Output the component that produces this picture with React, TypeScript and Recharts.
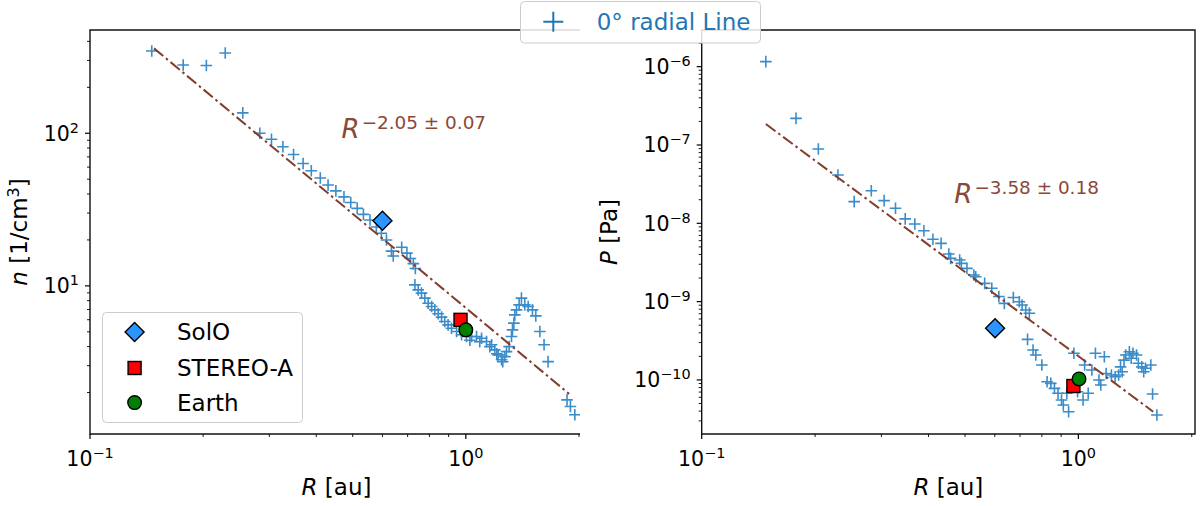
import React from "react";
import { ScatterChart, Scatter, XAxis, YAxis, ReferenceArea, ReferenceDot, Legend } from "recharts";

const FONT = "DejaVu Sans";
const BLUE = "#3b8cc9";
const BROWN = "#823d2c";
const BROWN_TXT = "#8a4838";

// 0° radial line - density
const nR = [0.146, 0.177, 0.204, 0.229, 0.255, 0.283, 0.304, 0.326, 0.348, 0.369, 0.388, 0.41, 0.43, 0.451, 0.474, 0.494, 0.514, 0.534, 0.556, 0.578, 0.596, 0.615, 0.634, 0.641, 0.675, 0.697, 0.712, 0.725, 0.732, 0.734, 0.747, 0.762, 0.778, 0.794, 0.811, 0.827, 0.844, 0.862, 0.879, 0.897, 0.916, 0.945, 0.974, 1.004, 1.025, 1.036, 1.068, 1.089, 1.101, 1.135, 1.158, 1.171, 1.194, 1.209, 1.219, 1.245, 1.254, 1.27, 1.283, 1.304, 1.323, 1.331, 1.342, 1.35, 1.364, 1.386, 1.406, 1.435, 1.465, 1.504, 1.535, 1.574, 1.615, 1.655, 1.859, 1.898, 1.95];
const nVal = [346, 280, 278, 336, 136, 100, 91.4, 81.6, 72.6, 63.4, 56.8, 50.9, 45.8, 41.9, 38.3, 35.2, 32.2, 29.4, 27.0, 24.3, 22.1, 20.0, 16.9, 15.7, 17.9, 16.4, 15.1, 14.0, 10.15, 13.0, 9.42, 8.96, 8.31, 7.7, 7.32, 6.96, 6.56, 6.24, 5.84, 5.55, 5.28, 5.02, 4.78, 4.66, 4.4, 4.66, 4.66, 4.3, 4.54, 4.32, 3.99, 4.11, 3.81, 3.59, 3.53, 3.28, 3.18, 3.44, 3.71, 4.0, 4.66, 5.15, 5.7, 6.46, 6.96, 7.51, 8.31, 7.51, 7.32, 6.96, 6.36, 5.02, 4.11, 3.19, 1.79, 1.62, 1.43];

// 0° radial line - pressure
const pR = [0.148, 0.178, 0.204, 0.23, 0.254, 0.282, 0.305, 0.327, 0.347, 0.368, 0.389, 0.411, 0.432, 0.453, 0.458, 0.484, 0.489, 0.506, 0.528, 0.534, 0.564, 0.589, 0.615, 0.636, 0.672, 0.697, 0.709, 0.725, 0.733, 0.741, 0.758, 0.771, 0.8, 0.826, 0.845, 0.864, 0.883, 0.902, 0.912, 0.932, 0.942, 0.973, 0.995, 1.029, 1.039, 1.062, 1.086, 1.11, 1.134, 1.147, 1.172, 1.185, 1.224, 1.252, 1.279, 1.294, 1.307, 1.322, 1.336, 1.366, 1.381, 1.396, 1.427, 1.443, 1.474, 1.491, 1.507, 1.557, 1.574, 1.616];
const pVal = [1.16e-6, 2.19e-7, 8.89e-8, 4.14e-8, 1.89e-8, 2.61e-8, 1.95e-8, 1.56e-8, 1.14e-8, 9.8e-9, 8.04e-9, 6.25e-9, 5.55e-9, 4.06e-9, 3.57e-9, 3.4e-9, 3.08e-9, 2.66e-9, 2.19e-9, 2.08e-9, 1.71e-9, 1.48e-9, 1.16e-9, 9.5e-10, 1.13e-9, 9.97e-10, 9.04e-10, 7.81e-10, 3.3e-10, 7.1e-10, 2.41e-10, 2.08e-10, 1.55e-10, 9.48e-11, 9.04e-11, 7.81e-11, 6.75e-11, 5.54e-11, 4.78e-11, 6.75e-11, 3.93e-11, 2.19e-10, 7.08e-11, 5.54e-11, 1.55e-10, 6.75e-11, 1.34e-10, 2.19e-10, 1.0e-10, 8.61e-11, 1.98e-10, 1.21e-10, 1.155e-10, 1.1e-10, 1.155e-10, 1.47e-10, 1.27e-10, 1.79e-10, 2.08e-10, 2.29e-10, 1.89e-10, 2.19e-10, 2.08e-10, 1.63e-10, 1.47e-10, 1.27e-10, 1.41e-10, 1.55e-10, 6.6e-11, 3.56e-11];

// spacecraft
const craftNames = ["SolO", "STEREO-A", "Earth"];
const craftColors = ["#2b95ff", "#ff0000", "#008000"];
const craftNR = [0.6, 0.968, 1.0];
const craftN = [26.7, 5.99, 5.15];
const craftPR = [0.601, 0.97, 1.004];
const craftP = [4.56e-10, 8.36e-11, 1.03e-10];

// power-law fits (end points)
const fitNR = [0.148, 1.883];
const fitN = [360, 1.96];
const fitPR = [0.148, 1.58];
const fitP = [1.85e-7, 3.93e-11];

const nDomain = [1.07, 475];
const pDomain = [2.04e-11, 2.94e-6];
const xDomainN = [0.1, 2.05];
const xDomainP = [0.1, 2.04];

const zip = (xs: number[], ys: number[]) => xs.map((x, i) => ({ x, y: ys[i] }));

function logTicks(lo: number, hi: number) {
  const out: number[] = [];
  for (let e = Math.floor(Math.log10(lo)); e <= Math.ceil(Math.log10(hi)); e++) {
    for (let m = 1; m < 10; m++) {
      const v = m * Math.pow(10, e);
      if (v >= lo * 0.999 && v <= hi * 1.001) out.push(v);
    }
  }
  return out;
}

const isMajor = (v: number) => {
  const e = Math.log10(v);
  return Math.abs(e - Math.round(e)) < 1e-6;
};
const expo = (v: number) => {
  const k = Math.round(Math.log10(v));
  return k < 0 ? "\u2212" + Math.abs(k) : String(k);
};

function XTick(props: any) {
  const { x, y, payload } = props;
  const major = isMajor(payload.value);
  return (
    <g>
      <line x1={x} x2={x} y1={y} y2={y + (major ? 5 : 3)} stroke="#000" strokeWidth={major ? 1.2 : 0.9} />
      {major && (
        <text x={x} y={y + 32} textAnchor="middle" fontFamily={FONT} fontSize={20.5} fill="#000">
          10<tspan dy={-8} fontSize={14.4}>{expo(payload.value)}</tspan>
        </text>
      )}
    </g>
  );
}

function YTick(props: any) {
  const { x, y, payload } = props;
  const major = isMajor(payload.value);
  return (
    <g>
      <line x1={x} x2={x - (major ? 5 : 3)} y1={y} y2={y} stroke="#000" strokeWidth={major ? 1.2 : 0.9} />
      {major && (
        <text x={x - 11} y={y + 7.5} textAnchor="end" fontFamily={FONT} fontSize={20.5} fill="#000">
          10<tspan dy={-8} fontSize={14.4}>{expo(payload.value)}</tspan>
        </text>
      )}
    </g>
  );
}

function XLabel(props: any) {
  const vb = props.viewBox || { x: 0, y: 0, width: 0 };
  return (
    <text x={vb.x + vb.width / 2} y={vb.y + 61} textAnchor="middle" fontFamily={FONT} fontSize={23} fill="#000">
      <tspan fontStyle="italic">R</tspan> [au]
    </text>
  );
}

function YLabel(props: any) {
  const vb = props.viewBox || { x: 0, y: 0, height: 0 };
  const cx = vb.x + props.dx;
  const cy = vb.y + vb.height / 2;
  return (
    <text x={cx} y={cy} textAnchor="middle" fontFamily={FONT} fontSize={23} fill="#000" transform={`rotate(-90, ${cx}, ${cy})`}>
      {props.kind === "n" ? (
        <>
          <tspan fontStyle="italic">n</tspan> [1/cm<tspan dy={-8} fontSize={16}>3</tspan><tspan dy={8}>]</tspan>
        </>
      ) : (
        <>
          <tspan fontStyle="italic">P</tspan> [Pa]
        </>
      )}
    </text>
  );
}

const Plus = (props: any) => {
  const { cx, cy } = props;
  if (cx == null || cy == null) return <g />;
  const h = 5.8;
  return <path d={`M${cx - h},${cy}H${cx + h}M${cx},${cy - h}V${cy + h}`} stroke={BLUE} strokeWidth={1.6} fill="none" />;
};

const Diamond = (props: any) => {
  const { cx, cy } = props;
  const h = 9.5;
  return <path d={`M${cx},${cy - h}L${cx + h},${cy}L${cx},${cy + h}L${cx - h},${cy}Z`} fill={craftColors[0]} stroke="#000" strokeWidth={1.4} />;
};
const Square = (props: any) => {
  const { cx, cy } = props;
  return <rect x={cx - 6.5} y={cy - 6.5} width={13} height={13} fill={craftColors[1]} stroke="#000" strokeWidth={1.4} />;
};
const Circle = (props: any) => {
  const { cx, cy } = props;
  return <circle cx={cx} cy={cy} r={6.8} fill={craftColors[2]} stroke="#000" strokeWidth={1.4} />;
};
const craftShapes = [Diamond, Square, Circle];

const Empty = () => <g />;

function PowerLabel(props: any) {
  const { cx, cy, label } = props;
  return (
    <text x={cx} y={cy} fontFamily={FONT} fontSize={26} fill={BROWN_TXT}>
      <tspan fontStyle="italic">R</tspan>
      <tspan dx={2} dy={-9} fontSize={18.4}>{label}</tspan>
    </text>
  );
}

function CraftLegend() {
  const rows = [20, 56, 90.6];
  return (
    <svg width={202} height={112} style={{ display: "block" }}>
      <rect x={0.5} y={0.5} width={200} height={110} rx={4} fill="rgba(255,255,255,0.8)" stroke="#cccccc" />
      {craftNames.map((name, i) => {
        const S = craftShapes[i];
        return (
          <g key={name}>
            <S cx={32.6} cy={rows[i]} />
            <text x={75} y={rows[i] + 8.4} fontFamily={FONT} fontSize={23} fill="#000">{name}</text>
          </g>
        );
      })}
    </svg>
  );
}

function Panel(props: any) {
  const { width, radial, craftR, craftV, fit, xDomain, yDomain, yWidth, marginRight, labelKind, labelDx, note, notePos } = props;
  return (
    <ScatterChart width={width} height={506} margin={{ top: 30, right: marginRight, bottom: 0, left: 0 }}>
      <XAxis
        type="number"
        dataKey="x"
        scale="log"
        domain={xDomain}
        allowDataOverflow
        ticks={logTicks(xDomain[0], xDomain[1])}
        interval={0}
        tick={<XTick />}
        tickLine={false}
        axisLine={false}
        tickSize={0}
        tickMargin={0}
        height={72}
        label={<XLabel />}
      />
      <YAxis
        type="number"
        dataKey="y"
        scale="log"
        domain={yDomain}
        allowDataOverflow
        ticks={logTicks(yDomain[0], yDomain[1])}
        interval={0}
        tick={<YTick />}
        tickLine={false}
        axisLine={false}
        tickSize={0}
        tickMargin={0}
        width={yWidth}
        label={<YLabel kind={labelKind} dx={labelDx} />}
      />
      <ReferenceArea x1={xDomain[0]} x2={xDomain[1]} y1={yDomain[0]} y2={yDomain[1]} fill="none" stroke="#111" strokeWidth={1.4} ifOverflow="visible" />
      <Scatter data={radial} shape={<Plus />} isAnimationActive={false} />
      <Scatter
        data={fit}
        line={{ stroke: BROWN, strokeWidth: 2, strokeDasharray: "12 3.5 2.5 3.5" }}
        shape={<Empty />}
        isAnimationActive={false}
      />
      {craftNames.map((name, i) => {
        const S = craftShapes[i];
        return <Scatter key={name} name={name} data={[{ x: craftR[i], y: craftV[i] }]} shape={<S />} isAnimationActive={false} />;
      })}
      <ReferenceDot x={notePos[0]} y={notePos[1]} r={0} shape={<PowerLabel label={note} />} />
      {labelKind === "n" && (
        <Legend
          layout="vertical"
          align="center"
          verticalAlign="middle"
          content={<CraftLegend />}
          wrapperStyle={{ position: "absolute", left: 101.7, top: 311.7, width: 202, height: 112 }}
        />
      )}
    </ScatterChart>
  );
}

export default function App() {
  return (
    <div style={{ position: "absolute", left: 0, top: 0, width: 1200, height: 506, background: "#fff", fontFamily: FONT }}>
      <div style={{ position: "absolute", left: 0, top: 0 }}>
        <Panel
          width={580}
          radial={zip(nR, nVal)}
          craftR={craftNR}
          craftV={craftN}
          fit={zip(fitNR, fitN)}
          xDomain={xDomainN}
          yDomain={nDomain}
          yWidth={90}
          marginRight={-3}
          labelKind="n"
          labelDx={27}
          note={"\u22122.05 \u00b1 0.07"}
          notePos={[0.467, 93.2]}
        />
      </div>
      <div style={{ position: "absolute", left: 580, top: 0 }}>
        <Panel
          width={620}
          radial={zip(pR, pVal)}
          craftR={craftPR}
          craftV={craftP}
          fit={zip(fitPR, fitP)}
          xDomain={xDomainP}
          yDomain={pDomain}
          yWidth={121.7}
          marginRight={5}
          labelKind="P"
          labelDx={37}
          note={"\u22123.58 \u00b1 0.18"}
          notePos={[0.4686, 1.8e-8]}
        />
      </div>
      <div style={{ position: "absolute", left: 520, top: 1, zIndex: 10 }}>
        <svg width={241} height={43} style={{ display: "block" }}>
          <rect x={0.5} y={0.5} width={240} height={41.5} rx={4} fill="rgba(255,255,255,0.85)" stroke="#cccccc" />
          <path d="M23.3,20.7H43.3M33.3,10.7V30.7" stroke="#1f77b4" strokeWidth={2} fill="none" />
          <text x={76.7} y={28.5} fontFamily={FONT} fontSize={23} fill="#1f77b4">0° radial Line</text>
        </svg>
      </div>
    </div>
  );
}
